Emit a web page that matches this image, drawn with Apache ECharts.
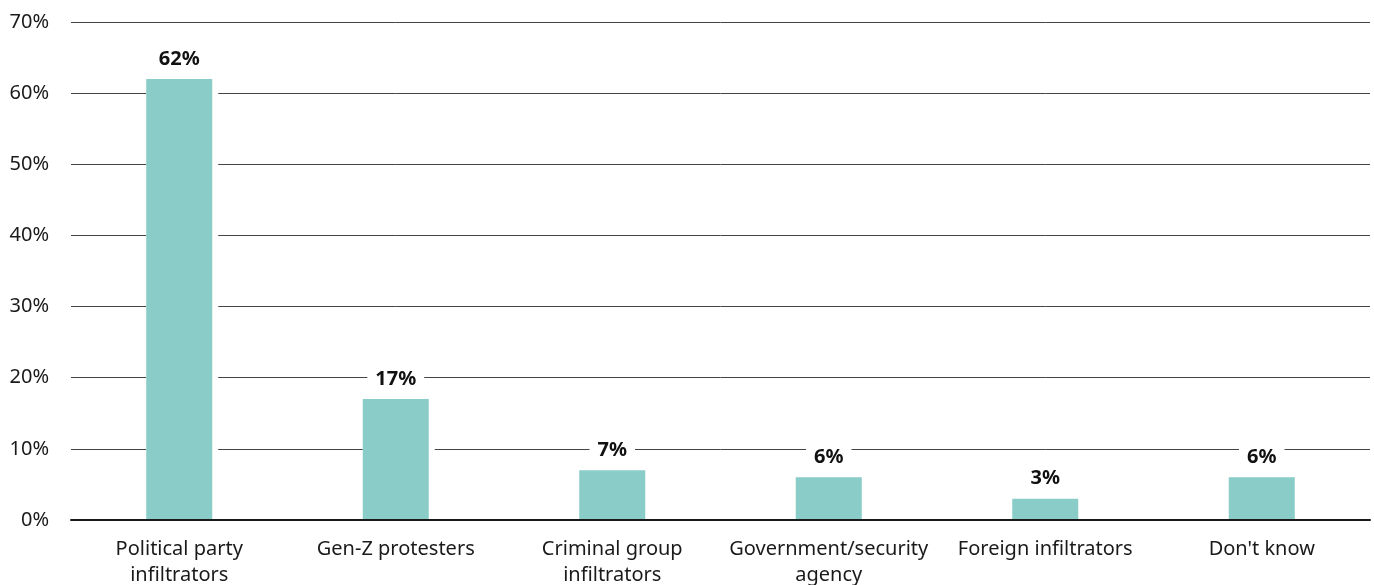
<!DOCTYPE html>
<html>
<head>
<meta charset="utf-8">
<script src="https://cdn.jsdelivr.net/npm/echarts@6/dist/echarts.min.js"></script>
<style>
html,body{margin:0;padding:0;background:#fff;}
#chart{width:1374px;height:585px;}
</style>
</head>
<body>
<div id="chart"></div>
<script>
const categories = ["Political party\ninfiltrators", "Gen-Z protesters", "Criminal group\ninfiltrators", "Government/security\nagency", "Foreign infiltrators", "Don't know"];
const values = [62, 17, 7, 6, 3, 6];
const yTicks = [0, 10, 20, 30, 40, 50, 60, 70];

const FONT = "'Noto Sans', 'Open Sans', sans-serif";
const chart = echarts.init(document.getElementById('chart'), null, {renderer: 'canvas'});
chart.setOption({
  animation: false,
  backgroundColor: '#ffffff',
  grid: {left: 71, right: 4, top: 22, bottom: 65, containLabel: false, outerBoundsMode: 'none'},
  xAxis: {
    type: 'category',
    data: categories,
    z: 5,
    axisLine: {show: true, lineStyle: {color: '#1a1a1a', width: 2}},
    axisTick: {show: false},
    axisLabel: {color: '#1a1a1a', fontSize: 20, fontFamily: FONT, margin: 16, lineHeight: 26, interval: 0}
  },
  yAxis: {
    type: 'value',
    min: yTicks[0],
    max: yTicks[yTicks.length - 1],
    interval: 10,
    z: 0,
    axisLine: {show: false},
    axisTick: {show: false},
    axisLabel: {color: '#1a1a1a', fontSize: 20, fontFamily: FONT, margin: 22, formatter: v => v + '%'},
    splitLine: {show: true, lineStyle: {color: '#444444', width: 1}}
  },
  series: [
    {
      type: 'bar',
      data: values,
      barWidth: 72,
      z: 1,
      silent: true,
      itemStyle: {color: '#ffffff'},
      label: {show: false}
    },
    {
      type: 'bar',
      data: values,
      barWidth: 66,
      barGap: '-100%',
      z: 2,
      itemStyle: {color: '#89ccc8'},
      label: {
        show: true,
        position: 'top',
        distance: 8,
        formatter: p => p.value + '%',
        color: '#111111',
        fontSize: 20,
        fontWeight: 'bold',
        fontFamily: FONT,
        backgroundColor: '#ffffff',
        padding: [2, 8, 2, 8]
      }
    }
  ]
});
</script>
</body>
</html>
